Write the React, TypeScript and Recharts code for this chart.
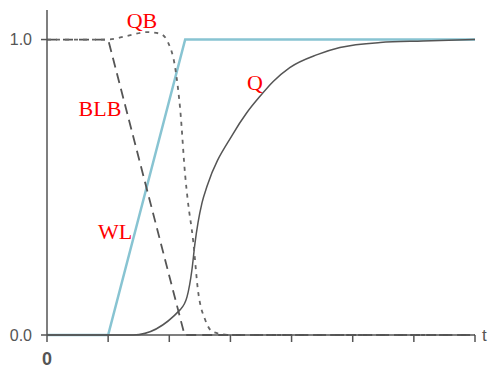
import { LineChart, Line, XAxis, YAxis } from "recharts";

// time axis ticks, one per unit
const timeTicks = [0, 1, 2, 3, 4, 5, 6, 7];
const levelTicks = [0, 1];

// WL: ramps up linearly
const wlTimes = [0, 1, 2.26, 7];
const wlValues = [0, 0, 1, 1];

// BLB: ramps down linearly
const blbTimes = [0, 1, 2.25, 7];
const blbValues = [1, 1, 0, 0];

// QB: small bump then a steep drop
const qbTimes = [0, 1, 1.3, 1.63, 1.85, 1.98, 2.1, 2.18, 2.26, 2.3, 2.39, 2.47, 2.59, 2.72, 3, 7];
const qbValues = [1, 1, 1.012, 1.025, 1.02, 0.99, 0.9, 0.76, 0.54, 0.46, 0.32, 0.15, 0.05, 0.01, 0, 0];

// Q: slow start, then saturating rise
const qTimes = [0, 1.41, 2.175, 2.29, 2.37, 2.42, 2.47, 2.535, 2.62, 3.04, 3.27, 3.48, 3.7, 3.97, 4.42, 4.79, 5.45, 6.15, 7];
const qValues = [0, 0, 0.085, 0.129, 0.22, 0.31, 0.38, 0.447, 0.505, 0.68, 0.753, 0.807, 0.858, 0.905, 0.949, 0.973, 0.99, 0.995, 1];

const toPoints = (ts: number[], vs: number[]) => ts.map((t, i) => ({ t, v: vs[i] }));

const axisColor = "#555";
const labelStyle = { fontFamily: "'Liberation Serif', 'Times New Roman', serif", fontSize: 22, fill: "#ff0000" };

export default function App() {
  return (
    <div style={{ position: "absolute", left: 0, top: 0, background: "#fff" }}>
      <LineChart width={494} height={370} margin={{ top: 10, right: 19, left: 0, bottom: 0 }}>
        <XAxis
          type="number"
          dataKey="t"
          domain={[0, 7]}
          ticks={timeTicks}
          allowDuplicatedCategory={false}
          height={35}
          stroke={axisColor}
          strokeWidth={1.5}
          tickSize={7}
          tickMargin={10}
          tickFormatter={(v: number) => (v === 0 ? "0" : "")}
          tick={{ fill: "#555", fontSize: 18, fontWeight: "bold", fontFamily: "Arial, 'Liberation Sans', sans-serif" }}
        />
        <YAxis
          type="number"
          dataKey="v"
          domain={[0, 1.1]}
          ticks={levelTicks}
          width={47}
          stroke={axisColor}
          strokeWidth={1.5}
          tickSize={6}
          tickMargin={9}
          tickFormatter={(v: number) => v.toFixed(1)}
          tick={{ fill: "#555", fontSize: 16, fontFamily: "Arial, 'Liberation Sans', sans-serif" }}
        />
        <Line
          data={toPoints(wlTimes, wlValues)}
          dataKey="v"
          type="linear"
          stroke="#88c4d2"
          strokeWidth={2.5}
          dot={false}
          isAnimationActive={false}
        />
        <Line
          data={toPoints(qTimes, qValues)}
          dataKey="v"
          type="monotone"
          stroke="#555"
          strokeWidth={1.5}
          dot={false}
          isAnimationActive={false}
        />
        <Line
          data={toPoints(blbTimes, blbValues)}
          dataKey="v"
          type="linear"
          stroke="#555"
          strokeWidth={1.8}
          strokeDasharray="10 6"
          dot={false}
          isAnimationActive={false}
        />
        <Line
          data={toPoints(qbTimes, qbValues)}
          dataKey="v"
          type="monotone"
          stroke="#666"
          strokeWidth={1.8}
          strokeDasharray="4 5"
          dot={false}
          isAnimationActive={false}
        />
        <text x={142} y={28} textAnchor="middle" {...labelStyle}>QB</text>
        <text x={100} y={116} textAnchor="middle" {...labelStyle}>BLB</text>
        <text x={115} y={239} textAnchor="middle" {...labelStyle}>WL</text>
        <text x={255} y={90} textAnchor="middle" {...labelStyle}>Q</text>
        <text x={482} y={341} fill="#555" fontSize={17} fontFamily="Arial, 'Liberation Sans', sans-serif">t</text>
      </LineChart>
    </div>
  );
}
